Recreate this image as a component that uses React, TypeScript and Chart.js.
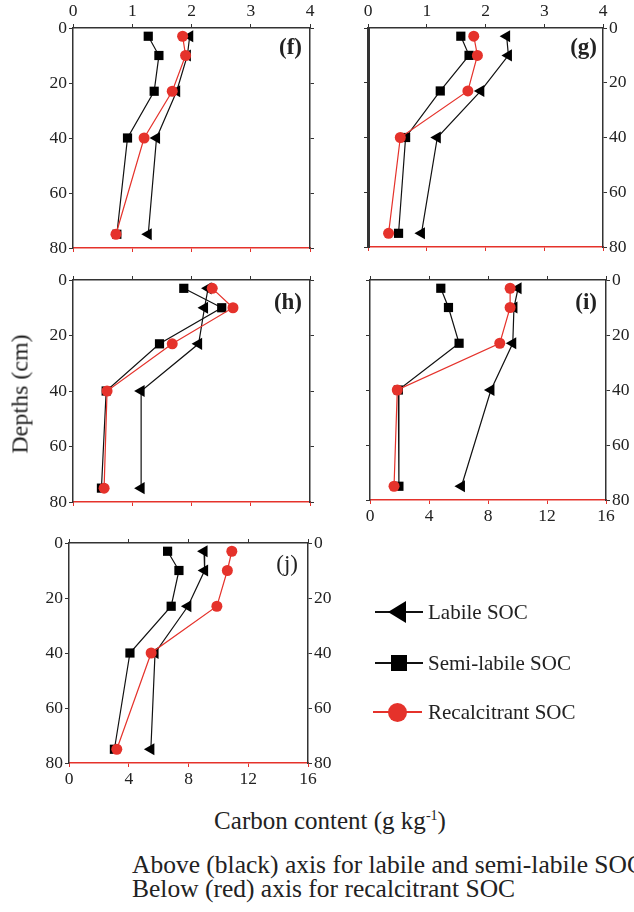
import React, { useEffect, useRef } from "react";
import { Chart, registerables } from "chart.js";

Chart.register(...registerables);

// Depth (cm) of each sampled layer
const depths = [3, 10, 23, 40, 75];

// Values: labile & semi-labile on top axis (0-4), recalcitrant on bottom axis (0-16)
const labileF = [1.97, 1.93, 1.75, 1.41, 1.27];
const semiF = [1.27, 1.45, 1.37, 0.92, 0.74];
const recalF = [7.4, 7.6, 6.7, 4.8, 2.9];

const labileG = [2.36, 2.39, 1.92, 1.18, 0.91];
const semiG = [1.58, 1.72, 1.23, 0.64, 0.52];
const recalG = [7.2, 7.45, 6.8, 2.2, 1.4];

const labileH = [2.28, 2.22, 2.12, 1.15, 1.15];
const semiH = [1.87, 2.51, 1.46, 0.56, 0.48];
const recalH = [9.4, 10.8, 6.7, 2.3, 2.1];

const labileI = [2.51, 2.44, 2.42, 2.05, 1.55];
const semiI = [1.2, 1.33, 1.51, 0.48, 0.49];
const recalI = [9.5, 9.5, 8.8, 1.85, 1.63];

const labileJ = [2.26, 2.27, 1.99, 1.44, 1.37];
const semiJ = [1.65, 1.84, 1.71, 1.02, 0.76];
const recalJ = [10.9, 10.6, 9.9, 5.5, 3.2];

const topRange = [0, 4];
const bottomRange = [0, 16];
const depthRange = [0, 80];

const RED = "#e5322b";
const INK = "#222";
const FONT = "'Liberation Serif', 'Times New Roman', serif";

type PanelProps = {
  left: number;
  top: number;
  w: number;
  h: number;
  labile: number[];
  semi: number[];
  recal: number[];
  showTop: boolean;
  showLeft: boolean;
  showRight: boolean;
  showBottom: boolean;
  leftWidth?: number;
};

const M = { l: 44, r: 44, t: 28, b: 28 };

function Panel(p: PanelProps) {
  const ref = useRef<HTMLCanvasElement>(null);
  useEffect(() => {
    if (!ref.current) return;
    const tickFont = { family: FONT, size: 17.5 };
    const grid = {
      drawOnChartArea: false,
      drawTicks: true,
      tickLength: 4,
      color: "#333",
      lineWidth: 1,
    };
    const redGrid = { ...grid, color: RED };
    const pts = (arr: number[]) => arr.map((v, i) => ({ x: v, y: depths[i] }));
    const chart = new Chart(ref.current, {
      type: "scatter",
      data: {
        datasets: [
          {
            label: "Recalcitrant SOC",
            data: pts(p.recal),
            xAxisID: "xBot",
            yAxisID: "yL",
            showLine: true,
            borderColor: RED,
            borderWidth: 1.2,
            pointStyle: "circle",
            pointRadius: 5.5,
            pointBackgroundColor: RED,
            pointBorderColor: RED,
            pointBorderWidth: 0,
          },
          {
            label: "Semi-labile SOC",
            data: pts(p.semi),
            xAxisID: "xTop",
            yAxisID: "yL",
            showLine: true,
            borderColor: "#111",
            borderWidth: 1.2,
            pointStyle: "rect",
            pointRadius: 6.5,
            pointBackgroundColor: "#000",
            pointBorderColor: "#000",
            pointBorderWidth: 0,
          },
          {
            label: "Labile SOC",
            data: pts(p.labile),
            xAxisID: "xTop",
            yAxisID: "yL",
            showLine: true,
            borderColor: "#111",
            borderWidth: 1.2,
            pointStyle: "triangle",
            rotation: -90,
            pointRadius: 7,
            pointBackgroundColor: "#000",
            pointBorderColor: "#000",
            pointBorderWidth: 0,
          },
        ],
      },
      options: {
        animation: false,
        responsive: false,
        maintainAspectRatio: false,
        events: [],
        layout: { padding: 0 },
        plugins: { legend: { display: false }, tooltip: { enabled: false } },
        scales: {
          xTop: {
            type: "linear",
            position: "top",
            min: topRange[0],
            max: topRange[1],
            ticks: { stepSize: 1, display: p.showTop, font: tickFont, color: INK, padding: 2 },
            grid,
            border: { color: "#333", width: 1.5 },
            afterFit: (s: any) => {
              s.height = M.t;
            },
          },
          xBot: {
            type: "linear",
            position: "bottom",
            min: bottomRange[0],
            max: bottomRange[1],
            ticks: { stepSize: 4, display: p.showBottom, font: tickFont, color: INK, padding: 2 },
            grid: redGrid,
            border: { color: RED, width: 1.5 },
            afterFit: (s: any) => {
              s.height = M.b;
            },
          },
          yL: {
            type: "linear",
            position: "left",
            reverse: true,
            min: depthRange[0],
            max: depthRange[1],
            ticks: { stepSize: 20, display: p.showLeft, font: tickFont, color: INK, padding: 2 },
            grid,
            border: { color: "#333", width: p.leftWidth ?? 1.5 },
            afterFit: (s: any) => {
              s.width = M.l;
            },
          },
          yR: {
            type: "linear",
            position: "right",
            reverse: true,
            min: depthRange[0],
            max: depthRange[1],
            ticks: { stepSize: 20, display: p.showRight, font: tickFont, color: INK, padding: 2 },
            grid,
            border: { color: "#333", width: 1.5 },
            afterFit: (s: any) => {
              s.width = M.r;
            },
          },
        },
      } as any,
    });
    return () => chart.destroy();
  }, []);
  const cw = p.w + M.l + M.r;
  const ch = p.h + M.t + M.b;
  return (
    <canvas
      ref={ref}
      width={cw}
      height={ch}
      style={{
        position: "absolute",
        left: p.left - M.l,
        top: p.top - M.t,
        width: cw,
        height: ch,
      }}
    />
  );
}

function PanelTag({ text, right, top, bold }: { text: string; right: number; top: number; bold: boolean }) {
  return (
    <div
      style={{
        position: "absolute",
        left: right,
        top,
        transform: "translateX(-100%)",
        fontFamily: FONT,
        fontSize: 23,
        lineHeight: "23px",
        fontWeight: bold ? 700 : 400,
        color: INK,
        whiteSpace: "nowrap",
      }}
    >
      {text}
    </div>
  );
}

export default function App() {
  return (
    <div
      style={{
        position: "absolute",
        left: 0,
        top: 0,
        width: 634,
        height: 912,
        overflow: "hidden",
        background: "#fff",
        fontFamily: FONT,
        color: INK,
      }}
    >
      <Panel left={73} top={28} w={237} h={220} labile={labileF} semi={semiF} recal={recalF}
        showTop showLeft showRight={false} showBottom={false} />
      <Panel left={368} top={28} w={235} h={219} labile={labileG} semi={semiG} recal={recalG}
        showTop showLeft={false} showRight showBottom={false} leftWidth={3} />
      <Panel left={73} top={280} w={237} h={222} labile={labileH} semi={semiH} recal={recalH}
        showTop={false} showLeft showRight={false} showBottom={false} />
      <Panel left={370} top={280} w={236} h={220} labile={labileI} semi={semiI} recal={recalI}
        showTop={false} showLeft={false} showRight showBottom />
      <Panel left={69} top={543} w={239} h={220} labile={labileJ} semi={semiJ} recal={recalJ}
        showTop={false} showLeft showRight showBottom />

      <PanelTag text="(f)" right={302} top={35} bold />
      <PanelTag text="(g)" right={597} top={35} bold />
      <PanelTag text="(h)" right={302} top={290} bold />
      <PanelTag text="(i)" right={597} top={290} bold />
      <PanelTag text="(j)" right={298} top={552} bold={false} />

      <div
        style={{
          position: "absolute",
          left: 20,
          top: 394,
          transform: "translate(-50%, -50%) rotate(-90deg)",
          fontSize: 24,
          whiteSpace: "nowrap",
        }}
      >
        Depths (cm)
      </div>

      {/* Legend */}
      <div style={{ position: "absolute", left: 375, top: 611, width: 48, height: 1.5, background: "#111" }} />
      <div
        style={{
          position: "absolute",
          left: 388,
          top: 601,
          width: 0,
          height: 0,
          borderTop: "11px solid transparent",
          borderBottom: "11px solid transparent",
          borderRight: "18px solid #000",
        }}
      />
      <div style={{ position: "absolute", left: 428, top: 599, fontSize: 21, lineHeight: "26px", whiteSpace: "nowrap" }}>
        Labile SOC
      </div>

      <div style={{ position: "absolute", left: 375, top: 662, width: 48, height: 1.5, background: "#111" }} />
      <div style={{ position: "absolute", left: 391, top: 655, width: 16, height: 16, background: "#000" }} />
      <div style={{ position: "absolute", left: 428, top: 650, fontSize: 21, lineHeight: "26px", whiteSpace: "nowrap" }}>
        Semi-labile SOC
      </div>

      <div style={{ position: "absolute", left: 373, top: 711, width: 49, height: 1.5, background: RED }} />
      <div
        style={{
          position: "absolute",
          left: 387.5,
          top: 702.5,
          width: 19,
          height: 19,
          borderRadius: "50%",
          background: RED,
        }}
      />
      <div style={{ position: "absolute", left: 428, top: 699, fontSize: 21, lineHeight: "26px", whiteSpace: "nowrap" }}>
        Recalcitrant SOC
      </div>

      {/* Axis title */}
      <div
        style={{
          position: "absolute",
          left: 330,
          top: 821,
          transform: "translate(-50%, -50%)",
          fontSize: 25,
          whiteSpace: "nowrap",
        }}
      >
        Carbon content (g kg<sup style={{ fontSize: 14 }}>-1</sup>)
      </div>

      {/* Caption */}
      <div
        style={{
          position: "absolute",
          left: 132,
          top: 853,
          fontSize: 25.5,
          lineHeight: "24px",
          whiteSpace: "nowrap",
        }}
      >
        <div>Above (black) axis for labile and semi-labile SOC</div>
        <div>Below (red) axis for recalcitrant SOC</div>
      </div>
    </div>
  );
}
